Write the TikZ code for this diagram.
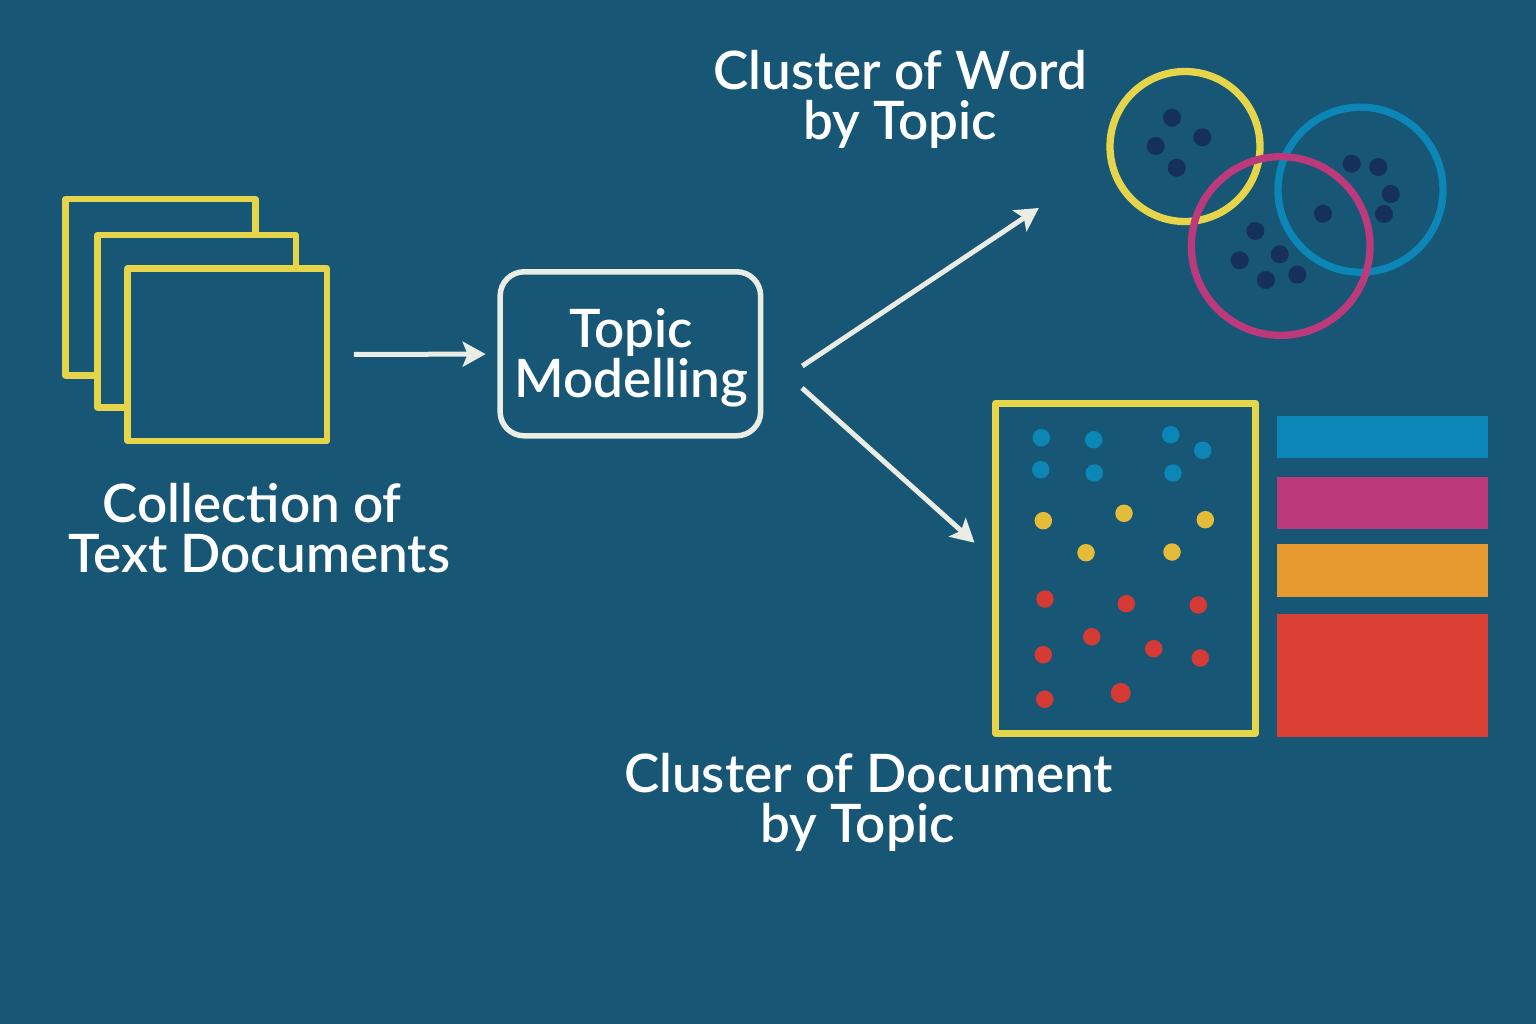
\documentclass[tikz,border=0pt]{standalone}
\usepackage{fontspec}
\setmainfont{Lato Semibold}
\usetikzlibrary{arrows.meta,positioning}
\definecolor{bgblue}{HTML}{175675}
\definecolor{docyellow}{HTML}{E6D44A}
\definecolor{dotyellow}{HTML}{E3BC3A}
\definecolor{topicblue}{HTML}{0B86B6}
\definecolor{topicpink}{HTML}{BC3A7C}
\definecolor{topicorange}{HTML}{E69A30}
\definecolor{topicred}{HTML}{DA4034}
\definecolor{dotred}{HTML}{D63A35}
\definecolor{dotnavy}{HTML}{15305A}
\definecolor{paleline}{HTML}{E9EDE3}
\tikzset{
	docbox/.style={draw=docyellow,fill=bgblue,line width=6.5pt,line join=round,inner sep=0pt,outer sep=0pt},
	ringbox/.style={circle,draw=#1,line width=7.3pt,inner sep=0pt,outer sep=0pt},
	worddot/.style={circle,fill=dotnavy,inner sep=0pt,minimum size=18pt},
	docdot/.style={circle,fill=#1,inner sep=0pt,minimum size=17.5pt},
	barbox/.style={fill=#1,inner sep=0pt,outer sep=0pt,minimum width=211pt},
	flow/.style={draw=paleline,line width=5pt,-{Stealth[length=23pt,width=25pt,inset=5pt]}},
	caption/.style={text=white,align=center,inner sep=0pt,font=\fontsize{53}{50}\selectfont}
}
\begin{document}
\begin{tikzpicture}[x=1pt,y=-1pt]
	\fill[bgblue] (0,0) rectangle (1536,1024);
	\useasboundingbox (0,0) rectangle (1536,1024);
	\node[docbox,minimum width=189.9pt,minimum height=176.2pt] (doc_1) at (160.5,287.3) {};
	\node[docbox,minimum width=198.2pt,minimum height=172.2pt] (doc_2) at (196.7,321.3) {};
	\node[docbox,minimum width=199.2pt,minimum height=172.2pt] (doc_3) at (227.2,354.7) {};
	\node[caption] (doc_label) at (259,528.5) {Collection of\kern14pt\\Text Documents};
	\node[draw=paleline,line width=5.5pt,rounded corners=24pt,minimum width=260.5pt,minimum height=164pt,outer sep=0pt] (topic) at (630.4,353.8) {};
	\node[caption] (topic_label) at (631,357.5) {Topic\\Modelling};
	\draw[flow,shorten <=27pt,shorten >=14.5pt] (doc_3) -- (topic);
	\coordinate (fork_a) at (802.3,366);
	\coordinate (tip_a) at (1038.8,208);
	\coordinate (fork_b) at (802,388);
	\coordinate (tip_b) at (974.5,542.7);
	\draw[flow] (fork_a) -- (tip_a);
	\draw[flow] (fork_b) -- (tip_b);
	\node[caption] (word_label) at (900,99) {Cluster of Word\\by Topic};
	\node[ringbox=docyellow,minimum size=150pt] (ring_a) at (1185,146.5) {};
	\node[ringbox=topicblue,minimum size=165pt] (ring_b) at (1360.5,189.7) {};
	\node[ringbox=topicpink,minimum size=178.7pt] (ring_c) at (1280.7,246) {};
	\foreach \x/\y [count=\i] in {1172/117.7,1202.3/137.3,1155.7/146,1176.7/167.7,1351.7/163.7,1378.3/167,1390.7/194,1384/214,1323/213.7,1255.3/231,1239.7/260.3,1279.7/254.3,1266/280,1297.3/274.7}
		\node[worddot] (word_\i) at (\x,\y) {};
	\node[draw=docyellow,line width=7pt,line join=round,inner sep=0pt,outer sep=0pt,minimum width=260pt,minimum height=330pt] (doc_frame) at (1125.7,568.3) {};
	\foreach \x/\y [count=\i] in {1041.3/437.7,1093.7/439.7,1170.7/434.7,1202.7/450.3,1040.7/469.7,1094.3/473,1173/473}
		\node[docdot=topicblue] (blue_\i) at (\x,\y) {};
	\foreach \x/\y [count=\i] in {1043.3/520.7,1124/513.3,1205.3/519.7,1086/552.7,1172/552}
		\node[docdot=dotyellow] (yellow_\i) at (\x,\y) {};
	\foreach \x/\y [count=\i] in {1045/599,1126.3/603.7,1198.3/605,1091.7/636.7,1043.3/654.7,1153.7/648.7,1200.3/658,1044.7/699.3}
		\node[docdot=dotred] (red_\i) at (\x,\y) {};
	\node[docdot=dotred,minimum size=20pt] (red_9) at (1120.7,693) {};
	\node[barbox=topicblue,minimum height=42.6pt] (bar_a) at (1382.5,437) {};
	\node[barbox=topicpink,minimum height=52.3pt] (bar_b) at (1382.5,502.8) {};
	\node[barbox=topicorange,minimum height=53pt] (bar_c) at (1382.5,570.5) {};
	\node[barbox=topicred,minimum height=122.7pt] (bar_d) at (1382.5,675.7) {};
	\node[caption] (frame_label) at (868.5,802) {Cluster of Document\\by Topic\kern22pt};
\end{tikzpicture}
\end{document}
